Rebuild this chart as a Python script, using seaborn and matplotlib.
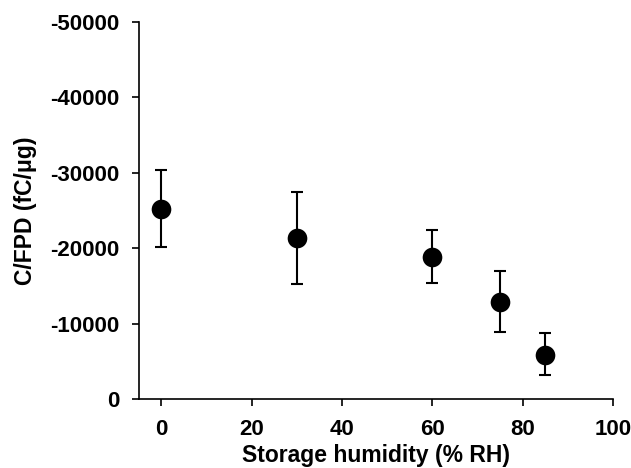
import pandas as pd
import seaborn as sns
import numpy as np
import matplotlib.pyplot as plt

# data
humidity = [0, 30, 60, 75, 85]
cfpd = [-25200, -21400, -18900, -12900, -5900]
err_low = [5000, 6200, 3500, 4000, 2750]    # toward 0
err_high = [5200, 6100, 3500, 4050, 2850]   # toward more negative

df = pd.DataFrame({"humidity": humidity, "cfpd": cfpd})

sns.set_style("ticks")
plt.rcParams['font.family'] = ['Liberation Sans', 'DejaVu Sans']
plt.rcParams['font.weight'] = 'bold'
plt.rcParams['text.color'] = 'black'
plt.rcParams['axes.labelcolor'] = 'black'
plt.rcParams['xtick.color'] = 'black'
plt.rcParams['ytick.color'] = 'black'

fig = plt.figure(figsize=(6.31, 4.68), dpi=100)
ax = fig.add_axes([0.2197, 0.147, 0.7521, 0.8066])

ax.errorbar(df["humidity"], df["cfpd"], yerr=[err_high, err_low], fmt='none',
            ecolor='black', elinewidth=1.5, capsize=4.5, capthick=1.5, zorder=2)
sns.scatterplot(data=df, x="humidity", y="cfpd", ax=ax, color='black',
                s=200, edgecolor='black', linewidth=0, zorder=3)

ax.set_xlim(-5, 100)
ax.set_ylim(0, -50000)
ax.set_xticks([0, 20, 40, 60, 80, 100])
ax.set_yticks([0, -10000, -20000, -30000, -40000, -50000])
ax.set_xticklabels(["0", "20", "40", "60", "80", "100"])
ax.set_yticklabels(["0", "-10000", "-20000", "-30000", "-40000", "-50000"])

ax.set_xlabel("Storage humidity (% RH)", fontsize=16.5, fontweight='bold', labelpad=3)
ax.set_ylabel("C/FPD (fC/\u03bcg)", fontsize=16.5, fontweight='bold', labelpad=9)
ax.tick_params(axis='both', labelsize=16, width=1.2, length=5, color='black',
               labelcolor='black', pad=9)
for lab in ax.get_xticklabels() + ax.get_yticklabels():
    lab.set_fontweight('bold')

sns.despine(ax=ax)
for sp in ['left', 'bottom']:
    ax.spines[sp].set_linewidth(1.2)
    ax.spines[sp].set_color('black')

fig.savefig("out.png", dpi=100)
